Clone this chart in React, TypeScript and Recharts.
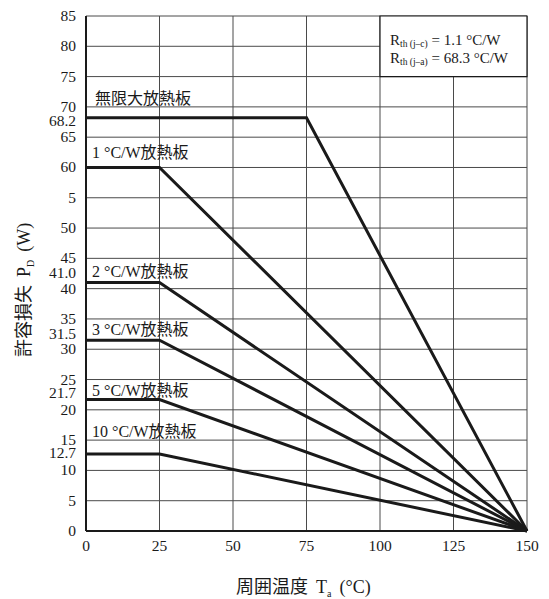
import React from 'react'
import {
  LineChart,
  Line,
  XAxis,
  YAxis,
  CartesianGrid,
  ReferenceArea,
  ReferenceDot,
} from 'recharts'

// Temperature breakpoints (°C)
const infiniteTemps = [0, 75, 150]
const plateTemps = [0, 25, 150]

// Allowable power dissipation (W) at each breakpoint
const infinitePower = [68.2, 68.2, 0]
const plate1Power = [60, 60, 0]
const plate2Power = [41.0, 41.0, 0]
const plate3Power = [31.5, 31.5, 0]
const plate5Power = [21.7, 21.7, 0]
const plate10Power = [12.7, 12.7, 0]

const seriesNames = ['無限大放熱板', '1 °C/W放熱板', '2 °C/W放熱板', '3 °C/W放熱板', '5 °C/W放熱板', '10 °C/W放熱板']

const xTicks = [0, 25, 50, 75, 100, 125, 150]
const yGrid = [0, 5, 10, 15, 20, 25, 30, 35, 40, 45, 50, 55, 60, 65, 70, 75, 80, 85]
const yMarks = [68.2, 41.0, 31.5, 21.7, 12.7]
const yTickText: Record<string, string> = { '55': '5', '41': '41.0' }

const SERIF = "'Liberation Serif', 'Times New Roman', 'Noto Sans CJK JP', serif"
const INK = '#1a1a1a'
const GRID = '#4a4a4a'

// pixel nudges so the extra tick labels don't collide with the round ones
const tickNudge: Record<string, number> = { '68.2': 3, '41': -10, '31.5': -6, '21.7': -7, '12.7': -1 }
// label placement above each curve (dx, dy in px)
const labelNudge = [
  [9, -14],
  [6, -9],
  [6, -6],
  [6, -5],
  [6, -4],
  [6, -17],
]

const toPoints = (temps: number[], power: number[]) => temps.map((t, i) => ({ t, p: power[i] }))

const series = [
  toPoints(infiniteTemps, infinitePower),
  toPoints(plateTemps, plate1Power),
  toPoints(plateTemps, plate2Power),
  toPoints(plateTemps, plate3Power),
  toPoints(plateTemps, plate5Power),
  toPoints(plateTemps, plate10Power),
]

const YTick = (props: any) => {
  const { x, y, payload } = props
  const key = String(payload.value)
  const text = yTickText[key] ?? key
  return (
    <text x={x} y={y + (tickNudge[key] ?? 0)} dy={5} textAnchor="end" fontFamily={SERIF} fontSize={15.5} fill={INK}>
      {text}
    </text>
  )
}

const XTick = (props: any) => {
  const { x, y, payload } = props
  return (
    <text x={x} y={y} dy={12} textAnchor="middle" fontFamily={SERIF} fontSize={15.5} fill={INK}>
      {payload.value}
    </text>
  )
}

const CurveLabel = (text: string, idx: number) => (props: any) => {
  const { viewBox } = props
  const [dx, dy] = labelNudge[idx]
  return (
    <text x={viewBox.x + dx} y={viewBox.y + dy} fontFamily={SERIF} fontSize={16} fill={INK}>
      {text}
    </text>
  )
}

const RthBox = (props: any) => {
  const { viewBox } = props
  const x0 = viewBox.x + 10
  const y0 = viewBox.y
  return (
    <g fontFamily={SERIF} fill={INK}>
      <text x={x0} y={y0 + 29} fontSize={15}>
        R<tspan fontSize={9.5} dy={2}>th (j–c)</tspan>
        <tspan dy={-2}> = 1.1 °C/W</tspan>
      </text>
      <text x={x0} y={y0 + 47} fontSize={15}>
        R<tspan fontSize={9.5} dy={2}>th (j–a)</tspan>
        <tspan dy={-2}> = 68.3 °C/W</tspan>
      </text>
    </g>
  )
}

export default function App() {
  return (
    <div style={{ position: 'absolute', left: 0, top: 0, width: 549, height: 599, background: '#fff' }}>
      <LineChart width={549} height={599} margin={{ top: 16, right: 22, left: 0, bottom: 0 }}>
        <CartesianGrid
          stroke={GRID}
          strokeWidth={1}
          horizontalValues={yGrid}
          verticalValues={xTicks}
        />
        <XAxis
          type="number"
          dataKey="t"
          domain={[0, 150]}
          ticks={xTicks}
          height={68}
          tickLine={false}
          tickSize={0}
          tickMargin={8}
          axisLine={{ stroke: INK, strokeWidth: 2 }}
          tick={<XTick />}
          allowDuplicatedCategory={false}
        />
        <YAxis
          type="number"
          dataKey="p"
          domain={[0, 85]}
          ticks={[...yGrid, ...yMarks]}
          width={86}
          tickLine={false}
          tickSize={0}
          tickMargin={10}
          axisLine={{ stroke: INK, strokeWidth: 2 }}
          tick={<YTick />}
          interval={0}
        />
        <ReferenceArea
          x1={100}
          x2={150}
          y1={75}
          y2={85}
          fill="#fff"
          fillOpacity={1}
          stroke={INK}
          strokeWidth={1.2}
          label={<RthBox />}
        />
        {series.map((data, i) => (
          <Line
            key={seriesNames[i]}
            data={data}
            dataKey="p"
            type="linear"
            stroke={INK}
            strokeWidth={3}
            dot={false}
            isAnimationActive={false}
          />
        ))}
        {series.map((data, i) => (
          <ReferenceDot
            key={'lbl' + i}
            x={0}
            y={data[0].p}
            r={0}
            fill="none"
            stroke="none"
            label={{ content: CurveLabel(seriesNames[i], i) }}
          />
        ))}
      </LineChart>
      <svg width={549} height={599} style={{ position: 'absolute', left: 0, top: 0, pointerEvents: 'none' }}>
        <text x={236} y={593} fontFamily={SERIF} fontSize={18} fill={INK}>
          周囲温度
          <tspan dx={8}>T</tspan>
          <tspan fontSize={10} dy={4}>a</tspan>
          <tspan dx={8} dy={-4}>(°C)</tspan>
        </text>
        <text x={30} y={357} transform="rotate(-90 30 357)" fontFamily={SERIF} fontSize={18} fill={INK}>
          許容損失
          <tspan dx={8}>P</tspan>
          <tspan fontSize={10} dy={4}>D</tspan>
          <tspan dx={8} dy={-4}>(W)</tspan>
        </text>
      </svg>
    </div>
  )
}
